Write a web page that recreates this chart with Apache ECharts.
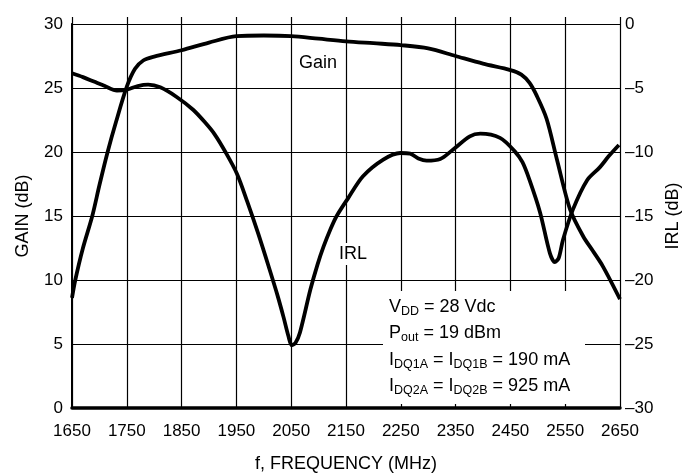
<!DOCTYPE html>
<html>
<head>
<meta charset="utf-8">
<script src="https://cdn.jsdelivr.net/npm/echarts@6/dist/echarts.min.js"></script>
<style>
html,body{margin:0;padding:0;background:#fff;}
#chart{width:685px;height:475px;}
</style>
</head>
<body>
<div id="chart"></div>
<script>
// ---- data ----
const gainFreq = [1650,1656,1670,1687,1700,1715,1730,1750,1765,1780,1800,1850,1900,1950,2000,2050,2100,2150,2200,2250,2300,2350,2400,2450,2470,2485,2498,2516,2535,2559,2583,2600,2619,2650];
const gainValues = [8.6,10,12.5,15,17.4,20,22.3,25.1,26.5,27.15,27.45,27.95,28.55,29.05,29.1,29.05,28.85,28.65,28.5,28.35,28.1,27.5,26.9,26.4,26.05,25.4,24.4,22.6,19.4,15.5,13.4,12.3,11.05,8.5];

const irlFreq = [1650,1670,1690,1710,1732,1750,1770,1789,1811,1841,1871,1893,1910,1930,1951,1970,1990,2010,2025,2036,2045,2051,2058,2066,2085,2098,2109,2122,2133,2154,2181,2218,2249,2267,2282,2297,2322,2345,2376,2395,2431,2458,2472,2485,2504,2522,2531,2538,2546,2564,2590,2613,2630,2648];
const irlValues = [-3.85,-4.15,-4.5,-4.85,-5.2,-5.13,-4.85,-4.74,-4.95,-5.7,-6.7,-7.7,-8.6,-10.0,-11.7,-13.9,-16.4,-19.1,-21.2,-22.9,-24.4,-25.1,-24.9,-24.1,-20.75,-18.8,-17.4,-16.0,-15.0,-13.6,-11.9,-10.6,-10.08,-10.13,-10.5,-10.68,-10.55,-9.82,-8.78,-8.57,-8.9,-9.95,-10.8,-12.2,-14.7,-17.9,-18.6,-18.3,-16.85,-14.5,-12.2,-11.2,-10.3,-9.45];

const xTickLabels = ['1650','1750','1850','1950','2050','2150','2250','2350','2450','2550','2650'];
const gainTickLabels = ['0','5','10','15','20','25','30'];
const irlTickLabels = ['–30','–25','–20','–15','–10','–5','0'];

const F0 = 1650; // axis origin (tick labels start here)
const FONT = '"Liberation Sans",Arial,Helvetica,sans-serif';

const gainData = gainFreq.map((f, i) => [f - F0, gainValues[i]]);
const irlData = irlFreq.map((f, i) => [f - F0, irlValues[i]]);

const chart = echarts.init(document.getElementById('chart'), null, {renderer: 'canvas'});
const txt = {color: '#000', fontFamily: FONT};
const rich = {n: {fontSize: 18, lineHeight: 22, fontFamily: FONT, color: '#000'}, s: {fontSize: 12.5, fontFamily: FONT, color: '#000', verticalAlign: 'bottom'}};

chart.setOption({
  animation: false,
  backgroundColor: '#fff',
  grid: {left: 72, right: 65, top: 24, bottom: 67, containLabel: false, outerBoundsMode: 'none'},
  xAxis: [{
    type: 'value', min: 0, max: 1000, interval: 100,
    name: 'f, FREQUENCY (MHz)', nameLocation: 'middle', nameGap: 47,
    nameTextStyle: Object.assign({fontSize: 18}, txt),
    axisLine: {show: true, lineStyle: {color: '#000', width: 3.5}},
    axisTick: {show: false},
    axisLabel: Object.assign({fontSize: 17, margin: 15, formatter: v => xTickLabels[Math.round(v / 100)]}, txt),
    splitLine: {show: true, lineStyle: {color: '#000', width: 1.2}}
  }, {
    type: 'value', min: 0, max: 1000, interval: 100, position: 'bottom', z: 5,
    axisLine: {show: false},
    axisTick: {show: true, inside: true, length: 7, lineStyle: {color: '#000', width: 1.2}},
    axisLabel: {show: false},
    splitLine: {show: false}
  }],
  yAxis: [{
    type: 'value', min: 0, max: 30, interval: 5, position: 'left',
    name: 'GAIN (dB)', nameLocation: 'middle', nameGap: 40, nameRotate: 90,
    nameTextStyle: Object.assign({fontSize: 18}, txt),
    axisLine: {show: true, lineStyle: {color: '#000', width: 2}},
    axisTick: {show: false},
    axisLabel: Object.assign({fontSize: 17, margin: 9, formatter: v => gainTickLabels[Math.round(v / 5)]}, txt),
    splitLine: {show: true, lineStyle: {color: '#000', width: 1.2}}
  }, {
    type: 'value', min: -30, max: 0, interval: 5, position: 'right',
    name: 'IRL (dB)', nameLocation: 'middle', nameGap: 44, nameRotate: 90,
    nameTextStyle: Object.assign({fontSize: 18}, txt),
    axisLine: {show: true, lineStyle: {color: '#000', width: 1.5}},
    axisTick: {show: false},
    axisLabel: Object.assign({fontSize: 17, margin: 5, formatter: v => irlTickLabels[Math.round((v + 30) / 5)]}, txt),
    splitLine: {show: false}
  }],
  series: [{
    name: 'Gain', type: 'line', yAxisIndex: 0, data: gainData,
    showSymbol: false, smooth: 0.3, z: 4,
    lineStyle: {color: '#000', width: 3.8}
  }, {
    name: 'IRL', type: 'line', yAxisIndex: 1, data: irlData,
    showSymbol: false, smooth: 0.3, z: 4,
    lineStyle: {color: '#000', width: 3.8}
  }],
  graphic: [
    {type: 'rect', z: 1, shape: {x: 383, y: 291, width: 202, height: 113}, style: {fill: '#fff'}},
    {type: 'text', z: 3, x: 318, y: 63, style: {text: 'Gain', fontSize: 18, fontFamily: FONT, fill: '#000', align: 'center', verticalAlign: 'middle'}},
    {type: 'text', z: 3, x: 353, y: 254, style: {text: 'IRL', fontSize: 18, fontFamily: FONT, fill: '#000', align: 'center', verticalAlign: 'middle', backgroundColor: '#fff', padding: [2, 4]}},
    {type: 'text', z: 3, x: 389, y: 307, style: {text: '{n|V}{s|DD}{n| = 28 Vdc}', verticalAlign: 'middle', rich: rich}},
    {type: 'text', z: 3, x: 389, y: 333, style: {text: '{n|P}{s|out}{n| = 19 dBm}', verticalAlign: 'middle', rich: rich}},
    {type: 'text', z: 3, x: 389, y: 360, style: {text: '{n|I}{s|DQ1A}{n| = I}{s|DQ1B}{n| = 190 mA}', verticalAlign: 'middle', rich: rich}},
    {type: 'text', z: 3, x: 389, y: 386, style: {text: '{n|I}{s|DQ2A}{n| = I}{s|DQ2B}{n| = 925 mA}', verticalAlign: 'middle', rich: rich}}
  ]
});
</script>
</body>
</html>
